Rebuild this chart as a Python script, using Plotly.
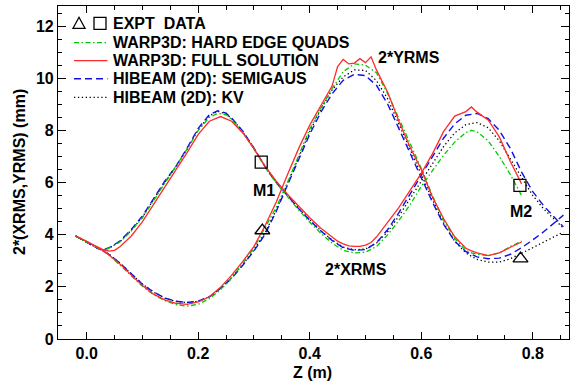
import plotly.graph_objects as go

# ---------------- data ----------------
# WARP3D: HARD EDGE QUADS (green)
z_hard = [-0.02, 0.0, 0.02, 0.03, 0.04, 0.06, 0.08, 0.10, 0.12, 0.14, 0.16, 0.18, 0.20, 0.22, 0.235, 0.25,
          0.26, 0.28, 0.30, 0.32, 0.34, 0.36, 0.38, 0.40, 0.42, 0.44, 0.46, 0.48, 0.50, 0.52, 0.54, 0.56,
          0.58, 0.60, 0.62, 0.64, 0.66, 0.68, 0.69, 0.70, 0.72, 0.74, 0.76, 0.78]
x_hard = [3.95, 3.72, 3.48, 3.42, 3.48, 3.73, 4.15, 4.65, 5.3, 6.0, 6.6, 7.28, 8.0, 8.5, 8.65, 8.6,
          8.42, 7.92, 7.28, 6.58, 5.98, 5.45, 4.95, 4.48, 4.05, 3.68, 3.4, 3.3, 3.33, 3.55, 4.0, 4.55,
          5.15, 5.85, 6.45, 7.05, 7.55, 7.92, 8.0, 7.95, 7.6, 7.0, 6.3, 5.5]
y_hard = [3.95, 3.74, 3.5, 3.38, 3.22, 2.83, 2.42, 2.02, 1.7, 1.47, 1.32, 1.26, 1.33, 1.55, 1.8, 2.1,
          2.35, 2.9, 3.5, 4.25, 5.05, 6.0, 7.05, 8.05, 8.85, 9.6, 10.25, 10.55, 10.5, 10.2, 9.4, 8.45,
          7.5, 6.55, 5.5, 4.55, 3.85, 3.4, 3.3, 3.25, 3.2, 3.3, 3.55, 3.75]

# WARP3D: FULL SOLUTION (red)
z_full = [-0.02, 0.0, 0.02, 0.03, 0.04, 0.05, 0.06,
          0.08, 0.10, 0.12, 0.14, 0.16, 0.18, 0.20, 0.22, 0.24, 0.26, 0.28, 0.30, 0.32, 0.34, 0.36,
          0.38, 0.40, 0.42, 0.44,
          0.45, 0.46, 0.47, 0.48, 0.49, 0.50, 0.51, 0.52,
          0.54, 0.56, 0.58, 0.60, 0.62, 0.64, 0.66, 0.68,
          0.69, 0.70, 0.72, 0.74, 0.76, 0.78]
x_full = [3.95, 3.75, 3.52, 3.42, 3.37, 3.40, 3.55,
          3.95, 4.5, 5.15, 5.85, 6.5, 7.15, 7.85, 8.35, 8.53, 8.35, 7.9, 7.3, 6.62, 6.05, 5.55,
          5.1, 4.65, 4.25, 3.9,
          3.75, 3.65, 3.57, 3.55, 3.55, 3.6, 3.7, 3.92,
          4.5, 5.05, 5.7, 6.35, 7.1, 7.95, 8.55, 8.72,
          8.9, 8.7, 8.4, 7.75, 6.8, 5.95]
y_full = [3.95, 3.75, 3.5, 3.38, 3.22, 3.05, 2.87,
          2.45, 2.05, 1.72, 1.5, 1.37, 1.33, 1.42, 1.62, 1.98, 2.45, 2.98, 3.55, 4.35, 5.25, 6.3,
          7.3, 8.2, 8.95, 9.7,
          10.45, 10.72, 10.55, 10.58, 10.75, 10.6, 10.82, 10.3,
          9.45, 8.35, 7.35, 6.5, 5.45, 4.62, 3.92, 3.48,
          3.38, 3.3, 3.2, 3.3, 3.52, 3.72]

# HIBEAM (2D): SEMIGAUS (blue) and KV (black)
z_hib = [-0.02, 0.0, 0.02, 0.03, 0.04,
         0.06, 0.08, 0.10, 0.12, 0.14, 0.16, 0.18, 0.20, 0.22,
         0.235, 0.25,
         0.26, 0.28, 0.30, 0.32, 0.34, 0.36, 0.38, 0.40, 0.42, 0.44, 0.46, 0.48, 0.50, 0.52, 0.54,
         0.56, 0.58, 0.60, 0.62, 0.64, 0.66, 0.68, 0.70, 0.72, 0.74, 0.76, 0.78,
         0.80, 0.82, 0.84, 0.855]
x_semigaus = [3.95, 3.72, 3.47, 3.42, 3.5,
              3.76, 4.2, 4.72, 5.38, 6.05, 6.62, 7.32, 8.08, 8.6,
              8.75, 8.66,
              8.47, 7.97, 7.32, 6.6, 6.0, 5.48, 5.0, 4.55, 4.14, 3.78, 3.5, 3.4, 3.43, 3.7, 4.2,
              4.85, 5.55, 6.25, 6.95, 7.7, 8.25, 8.58, 8.65, 8.45, 8.0, 7.3, 6.4,
              5.65, 5.1, 4.65, 4.3]
y_semigaus = [3.95, 3.72, 3.48, 3.38, 3.25,
              2.9, 2.5, 2.1, 1.8, 1.57, 1.45, 1.4, 1.45, 1.62,
              1.85, 2.12,
              2.33, 2.83, 3.38, 4.02, 4.9, 5.9, 6.9, 7.85, 8.7, 9.4, 9.92, 10.15, 10.1, 9.72, 9.0,
              8.05, 7.1, 6.2, 5.25, 4.4, 3.75, 3.35, 3.15, 3.08, 3.1, 3.25, 3.5,
              3.8, 4.12, 4.48, 4.75]
x_kv = [3.95, 3.72, 3.48, 3.42, 3.48,
        3.74, 4.18, 4.68, 5.33, 6.02, 6.6, 7.28, 8.03, 8.56,
        8.73, 8.63,
        8.45, 7.95, 7.32, 6.62, 6.02, 5.52, 5.02, 4.57, 4.15, 3.8, 3.52, 3.42, 3.45, 3.68, 4.12,
        4.72, 5.38, 6.02, 6.7, 7.38, 7.9, 8.22, 8.3, 8.1, 7.6, 6.9, 6.15,
        5.5, 4.98, 4.55, 4.25]
y_kv = [3.95, 3.72, 3.48, 3.38, 3.25,
        2.9, 2.5, 2.1, 1.8, 1.57, 1.44, 1.4, 1.45, 1.62,
        1.85, 2.14,
        2.36, 2.86, 3.42, 4.08, 4.95, 5.95, 6.95, 7.95, 8.82, 9.55, 10.05, 10.32, 10.3, 9.9, 9.2,
        8.22, 7.25, 6.3, 5.35, 4.45, 3.75, 3.3, 3.05, 2.95, 2.95, 3.08, 3.28,
        3.5, 3.72, 3.93, 4.1]

# EXPT DATA
expt_sq_z = [0.313, 0.777]
expt_sq_v = [6.78, 5.89]
expt_tri_z = [0.315, 0.778]
expt_tri_v = [4.16, 3.08]

x_tickvals = [0.0, 0.2, 0.4, 0.6, 0.8]
x_ticktext = ["0.0", "0.2", "0.4", "0.6", "0.8"]
y_tickvals = [0, 2, 4, 6, 8, 10, 12]
y_ticktext = ["0", "2", "4", "6", "8", "10", "12"]

legend_labels = ["WARP3D: HARD EDGE QUADS", "WARP3D: FULL SOLUTION",
                 "HIBEAM (2D): SEMIGAUS", "HIBEAM (2D): KV"]


def b(s):
    return "<b>" + s + "</b>"


# ---------------- figure ----------------
GREEN = "#00c800"
RED = "#ff2a2a"
BLUE = "#1010e6"
BLACK = "#000000"

styles = {
    "kv": dict(color=BLACK, width=1.3, dash="1.3px,2.6px"),
    "sg": dict(color=BLUE, width=1.4, dash="7px,4px"),
    "hard": dict(color=GREEN, width=1.3, dash="5px,2.5px,1.5px,2.5px"),
    "full": dict(color=RED, width=1.3, dash="solid"),
}

fig = go.Figure()
for z, xs, ys, key, name in [
    (z_hib, x_kv, y_kv, "kv", legend_labels[3]),
    (z_hib, x_semigaus, y_semigaus, "sg", legend_labels[2]),
    (z_hard, x_hard, y_hard, "hard", legend_labels[0]),
    (z_full, x_full, y_full, "full", legend_labels[1]),
]:
    fig.add_trace(go.Scatter(x=z, y=xs, mode="lines", line=styles[key], name=name + " 2*XRMS",
                             showlegend=False))
    fig.add_trace(go.Scatter(x=z, y=ys, mode="lines", line=styles[key], name=name + " 2*YRMS",
                             showlegend=False))

fig.add_trace(go.Scatter(x=expt_sq_z, y=expt_sq_v, mode="markers", name="EXPT DATA (square)",
                         marker=dict(symbol="square-open", size=12, color="black",
                                     line=dict(width=1.3, color="black")), showlegend=False))
fig.add_trace(go.Scatter(x=expt_tri_z, y=expt_tri_v, mode="markers", name="EXPT DATA (triangle)",
                         marker=dict(symbol="triangle-up-open", size=13, color="black",
                                     line=dict(width=1.3, color="black")), showlegend=False))

FONT = dict(family="Liberation Sans, Arial, sans-serif", size=16, color="black")

# plot-area geometry (pixels)
L, R, T, B = 58, 3, 6, 44
PW, PH = 572 - L - R, 383 - T - B


def px2paper(px, py):
    return (px - L) / PW, (383 - B - py) / PH


shapes = []
annots = []
row_py = [23.3, 42.7, 60.7, 78.7, 97.3]
row_y = [px2paper(0, p)[1] for p in row_py]
sample_x0 = px2paper(74, 0)[0]
sample_x1 = px2paper(107.5, 0)[0]
text_x = px2paper(111, 0)[0]

annots.append(dict(x=text_x, y=row_y[0], xref="paper", yref="paper", text=b("EXPT\u00a0 DATA"),
                   showarrow=False, xanchor="left", yanchor="middle", font=FONT))
shapes.append(dict(type="path", xref="paper", yref="paper", xsizemode="pixel", ysizemode="pixel",
                   xanchor=px2paper(79, 0)[0], yanchor=row_y[0], path="M -6,-5 L 6,-5 L 0,6 Z",
                   line=dict(color="black", width=1.3)))
shapes.append(dict(type="rect", xref="paper", yref="paper", xsizemode="pixel", ysizemode="pixel",
                   xanchor=px2paper(100, 0)[0], yanchor=row_y[0], x0=-6, x1=6, y0=-6, y1=6,
                   line=dict(color="black", width=1.3)))
for i, key in enumerate(["hard", "full", "sg", "kv"]):
    st = styles[key]
    shapes.append(dict(type="line", xref="paper", yref="paper", x0=sample_x0, x1=sample_x1,
                       y0=row_y[i + 1], y1=row_y[i + 1],
                       line=dict(color=st["color"], width=st["width"], dash=st["dash"])))
    annots.append(dict(x=text_x, y=row_y[i + 1], xref="paper", yref="paper", text=b(legend_labels[i]),
                       showarrow=False, xanchor="left", yanchor="middle", font=FONT))

# curve labels
for txt, zx, vy in [("M1", 0.318, 5.70), ("M2", 0.779, 4.89), ("2*YRMS", 0.578, 10.8),
                    ("2*XRMS", 0.483, 2.67)]:
    annots.append(dict(x=zx, y=vy, xref="x", yref="y", text=b(txt), showarrow=False,
                       xanchor="center", yanchor="middle", font=FONT))

# axis titles as annotations (precise placement)
tx, ty = px2paper(312, 372)
annots.append(dict(x=tx, y=ty, xref="paper", yref="paper", text=b("Z (m)"), showarrow=False,
                   xanchor="center", yanchor="middle", font=FONT))
tx, ty = px2paper(19, 172)
annots.append(dict(x=tx, y=ty, xref="paper", yref="paper", text=b("2*(XRMS,YRMS) (mm)"),
                   showarrow=False, xanchor="center", yanchor="middle", textangle=-90, font=FONT))

axis_common = dict(showgrid=False, zeroline=False, showline=True, linecolor="black", linewidth=1.2,
                   mirror="allticks", ticks="inside", tickcolor="black", tickwidth=1.2,
                   tickfont=FONT, automargin=False)

fig.update_layout(
    width=572, height=383,
    margin=dict(l=L, r=R, t=T, b=B),
    paper_bgcolor="white", plot_bgcolor="white",
    showlegend=False,
    font=FONT,
    shapes=shapes, annotations=annots,
    xaxis=dict(range=[-0.0515, 0.865], tickvals=x_tickvals, ticktext=[b(t) for t in x_ticktext],
               ticklen=7,
               minor=dict(dtick=0.05, tick0=0, ticklen=4, ticks="inside", tickcolor="black",
                          tickwidth=1),
               **axis_common),
    yaxis=dict(range=[0, 12.77], tickvals=y_tickvals, ticktext=[b(t) for t in y_ticktext],
               ticklen=8,
               minor=dict(dtick=0.5, tick0=0, ticklen=4, ticks="inside", tickcolor="black",
                          tickwidth=1),
               **axis_common),
)

fig.write_html("out.html", config={"displayModeBar": False},
               post_script="document.body.style.margin='0px';document.body.style.overflow='hidden';")
